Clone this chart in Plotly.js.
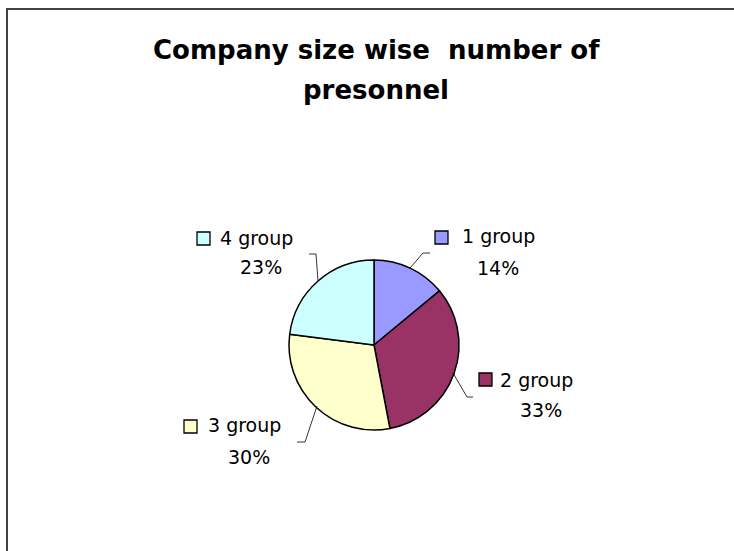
<!DOCTYPE html>
<html>
<head>
<meta charset="utf-8">
<script src="https://cdn.plot.ly/plotly-3.0.1.min.js"></script>
<style>html,body{margin:0;padding:0;background:#fff;}#chart{width:734px;height:551px;}</style>
</head>
<body>
<div id="chart"></div>
<script>
// ---- data ----
const categories = ["1 group", "2 group", "3 group", "4 group"];
const shares = [14, 33, 30, 23];
const sliceColors = ["#9999FF", "#993366", "#FFFFCC", "#CCFFFF"];
const titleLines = ["Company size wise  number of", "presonnel"];

// ---- layout helpers (pixel positions of the figure) ----
const W = 734, H = 551;
const px = x => x / W;
const py = y => 1 - y / H;
const cx = 374, cy = 345, r = 85;

// label placement: legend key box, name text left, percent center, leader polyline
const labelPos = [
  {key: [435, 231], name: [460, 236], pct: [498, 268], lead: [[410,268],[423,253],[430,253]]},
  {key: [479, 373], name: [498, 380], pct: [541, 410], lead: [[453,373],[467,397],[473,397]]},
  {key: [184, 420], name: [206, 425], pct: [249, 457], lead: [[317,406],[305,442],[297,442]]},
  {key: [197, 232], name: [218, 238], pct: [261, 267], lead: [[318,281],[316,254],[309,254]]}
];

const shapes = [];
const annotations = [];

// chart border
shapes.push({type: 'rect', xref: 'paper', yref: 'paper',
  x0: px(7), x1: 1.02, y0: -0.02, y1: py(9),
  line: {color: '#404040', width: 2}, fillcolor: 'rgba(0,0,0,0)'});

categories.forEach((c, i) => {
  const p = labelPos[i];
  shapes.push({type: 'rect', xref: 'paper', yref: 'paper',
    x0: px(p.key[0]), x1: px(p.key[0] + 13), y0: py(p.key[1] + 13), y1: py(p.key[1]),
    line: {color: '#000', width: 1.3}, fillcolor: sliceColors[i]});
  const path = p.lead.map((pt, k) => (k ? 'L' : 'M') + px(pt[0]) + ',' + py(pt[1])).join(' ');
  shapes.push({type: 'path', xref: 'paper', yref: 'paper', path: path,
    line: {color: '#000', width: 0.8}});
  annotations.push({xref: 'paper', yref: 'paper', x: px(p.name[0]), y: py(p.name[1]),
    xanchor: 'left', yanchor: 'middle', showarrow: false, text: c,
    font: {family: 'DejaVu Sans', size: 19, color: '#000'}});
  annotations.push({xref: 'paper', yref: 'paper', x: px(p.pct[0]), y: py(p.pct[1]),
    xanchor: 'center', yanchor: 'middle', showarrow: false, text: shares[i] + '%',
    font: {family: 'DejaVu Sans', size: 19, color: '#000'}});
});

// title lines
const titleY = [50, 90];
titleLines.forEach((t, i) => {
  annotations.push({xref: 'paper', yref: 'paper', x: px(376), y: py(titleY[i]),
    xanchor: 'center', yanchor: 'middle', showarrow: false, text: '<b>' + t + '</b>',
    font: {family: 'DejaVu Sans', size: 26, color: '#000'}});
});

const trace = {
  type: 'pie',
  labels: categories,
  values: shares,
  sort: false,
  direction: 'clockwise',
  rotation: 0,
  textinfo: 'none',
  hoverinfo: 'label+percent',
  marker: {colors: sliceColors, line: {color: '#000', width: 1.5}},
  domain: {x: [px(cx - r), px(cx + r)], y: [py(cy + r), py(cy - r)]},
  showlegend: false
};

const layout = {
  width: W, height: H,
  margin: {l: 0, r: 0, t: 0, b: 0},
  paper_bgcolor: '#fff',
  showlegend: false,
  shapes: shapes,
  annotations: annotations
};

Plotly.newPlot('chart', [trace], layout, {displayModeBar: false, staticPlot: true});
</script>
</body>
</html>
